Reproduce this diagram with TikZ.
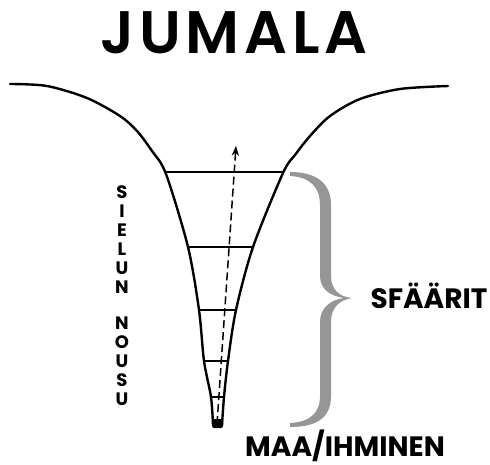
\documentclass[tikz,border=0pt]{standalone}
\usepackage{fontspec}
\setmainfont{Poppins}
\newfontfamily\titlefont{Poppins SemiBold}[LetterSpace=8]
\usetikzlibrary{arrows.meta}
\definecolor{bracegray}{RGB}{150,150,150}

\begin{document}
\begin{tikzpicture}[x=1pt,y=-1pt,>=Stealth, every node/.style={font=\bfseries,inner sep=0pt},
  wall/.style={line width=2.4pt,line cap=round},
  rung/.style={line width=1.3pt}]
  \useasboundingbox (0,0) rectangle (490,465);
  \node[anchor=base] (title) at (234,54) {\titlefont\mdseries\fontsize{60}{60}\selectfont JUMALA};
  \draw[wall] plot[smooth] coordinates {(10,84) (47,86) (87,98) (120,116) (137,131) (152,151)
    (166,174) (188,247) (199,310) (204,361) (211,397) (213,425)};
  \draw[wall] plot[smooth] coordinates {(448,86) (400,89) (360,99) (330,116) (310,136) (295,155)
    (283,173) (253,247) (236,310) (228,361) (224,397) (222,425)};
  \foreach \y/\l/\r [count=\i] in {172/165/283, 247/188/253, 310/199/236, 361/204/228, 397/211/224}
    \draw[rung] (\l,\y) coordinate (l\i) -- (\r,\y) coordinate (r\i);
  \fill[rounded corners=2pt] (212,419) rectangle (223,428);
  \coordinate (earth) at (217,424);
  \coordinate (top) at (236,146);
  \draw[->,line width=1.5pt,dash pattern=on 8pt off 4pt] (earth) -- (top);
  \fill[bracegray] (290,172) .. controls (315,172) and (331,182) .. (331,205) -- (331,276)
    .. controls (331,290) and (340,297) .. (352,298)
    .. controls (340,300) and (331,307) .. (331,322) -- (331,396)
    .. controls (331,419) and (315,427) .. (290,427) -- (290,423)
    .. controls (310,422) and (320,413) .. (320,396) -- (320,322)
    .. controls (320,308) and (330,300) .. (344,298)
    .. controls (330,296) and (320,289) .. (320,276) -- (320,205)
    .. controls (320,187) and (310,177) .. (290,176) -- cycle;
  \node[anchor=north,align=center,font=\bfseries\fontsize{18}{19}\selectfont] (ascent) at (122,185)
    {S\\I\\E\\L\\U\\N\\[17pt]N\\O\\U\\S\\U};
  \node[anchor=base] (spheres) at (429,308) {\fontsize{28}{28}\selectfont SFÄÄRIT};
  \node[anchor=base] (man) at (345,456) {\fontsize{28}{28}\selectfont MAA/IHMINEN};
\end{tikzpicture}
\end{document}
